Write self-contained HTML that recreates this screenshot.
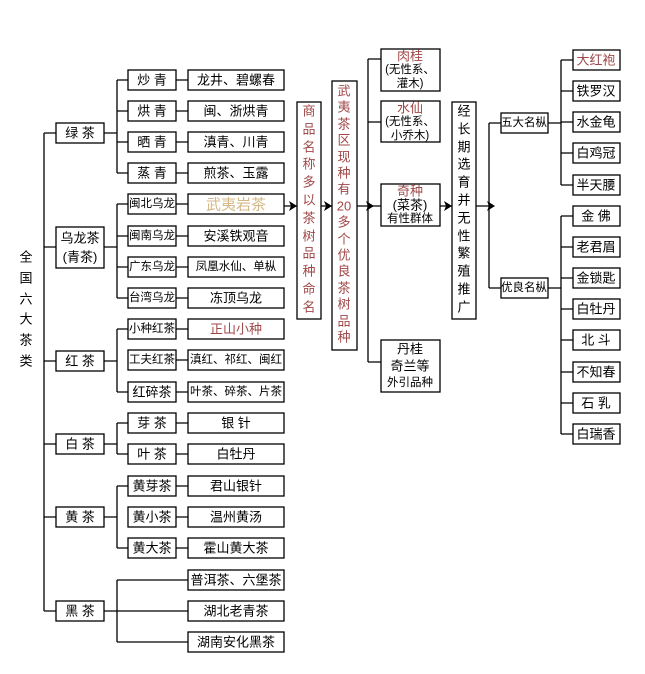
<!DOCTYPE html>
<html><head><meta charset="utf-8"><style>
html,body{margin:0;padding:0;background:#fff;}
svg text{font-family:"Liberation Sans","Noto Sans CJK SC","WenQuanYi Zen Hei",sans-serif;font-size:13px;fill:#000;text-anchor:middle;dominant-baseline:central;}
svg text.s{font-size:11.5px;}
.r{fill:#a04848 !important;}
</style></head><body>
<svg width="645" height="669" viewBox="0 0 645 669" xmlns="http://www.w3.org/2000/svg">
<g fill="#fff" stroke="#000" stroke-width="1.3">
<rect x="56" y="123" width="48" height="20"/>
<rect x="56" y="227" width="48" height="41"/>
<rect x="56" y="351" width="48" height="20"/>
<rect x="56" y="434" width="48" height="20"/>
<rect x="56" y="507" width="48" height="20"/>
<rect x="56" y="601" width="48" height="20"/>
<rect x="128" y="70" width="48" height="20"/>
<rect x="128" y="101" width="48" height="20"/>
<rect x="128" y="132" width="48" height="20"/>
<rect x="128" y="163" width="48" height="20"/>
<rect x="128" y="194" width="48" height="20"/>
<rect x="128" y="226" width="48" height="20"/>
<rect x="128" y="257" width="48" height="20"/>
<rect x="128" y="288" width="48" height="20"/>
<rect x="128" y="319" width="48" height="20"/>
<rect x="128" y="350" width="48" height="20"/>
<rect x="128" y="382" width="48" height="20"/>
<rect x="128" y="413" width="48" height="20"/>
<rect x="128" y="444" width="48" height="20"/>
<rect x="128" y="476" width="48" height="20"/>
<rect x="128" y="507" width="48" height="20"/>
<rect x="128" y="538" width="48" height="20"/>
<rect x="188" y="70" width="96" height="20"/>
<rect x="188" y="101" width="96" height="20"/>
<rect x="188" y="132" width="96" height="20"/>
<rect x="188" y="163" width="96" height="20"/>
<rect x="188" y="194" width="96" height="20"/>
<rect x="188" y="226" width="96" height="20"/>
<rect x="188" y="257" width="96" height="20"/>
<rect x="188" y="288" width="96" height="20"/>
<rect x="188" y="319" width="96" height="20"/>
<rect x="188" y="350" width="96" height="20"/>
<rect x="188" y="382" width="96" height="20"/>
<rect x="188" y="413" width="96" height="20"/>
<rect x="188" y="444" width="96" height="20"/>
<rect x="188" y="476" width="96" height="20"/>
<rect x="188" y="507" width="96" height="20"/>
<rect x="188" y="538" width="96" height="20"/>
<rect x="188" y="570" width="96" height="20"/>
<rect x="188" y="601" width="96" height="20"/>
<rect x="188" y="632" width="96" height="20"/>
<rect x="297" y="102" width="24" height="217"/>
<rect x="332" y="81" width="25" height="269"/>
<rect x="452" y="102" width="24" height="217"/>
<rect x="381" y="49" width="59" height="42"/>
<rect x="381" y="101" width="59" height="41"/>
<rect x="381" y="184" width="59" height="42"/>
<rect x="381" y="340" width="59" height="52"/>
<rect x="501" y="113" width="47" height="20"/>
<rect x="501" y="278" width="47" height="20"/>
<rect x="573" y="50" width="47" height="20"/>
<rect x="573" y="81" width="47" height="20"/>
<rect x="573" y="112" width="47" height="20"/>
<rect x="573" y="143" width="47" height="20"/>
<rect x="573" y="175" width="47" height="20"/>
<rect x="573" y="206" width="47" height="20"/>
<rect x="573" y="237" width="47" height="20"/>
<rect x="573" y="268" width="47" height="20"/>
<rect x="573" y="299" width="47" height="20"/>
<rect x="573" y="330" width="47" height="20"/>
<rect x="573" y="362" width="47" height="20"/>
<rect x="573" y="393" width="47" height="20"/>
<rect x="573" y="424" width="47" height="20"/>
</g>
<g stroke="#000" stroke-width="1.3" fill="none">
<path d="M44 133V611M44 133H56M44 247H56M44 361H56M44 444H56M44 517H56M44 611H56"/>
<path d="M104 133H117M117 80V173M117 80H128M117 111H128M117 142H128M117 173H128"/>
<path d="M104 247H117M117 204V298M117 204H128M117 236H128M117 267H128M117 298H128"/>
<path d="M104 361H117M117 329V392M117 329H128M117 392H128"/>
<path d="M104 444H117M117 423V454M117 423H128M117 454H128"/>
<path d="M104 517H117M117 486V548M117 486H128M117 548H128"/>
<path d="M104 611H188M117 580V642M117 580H188M117 642H188"/>
<path d="M176 80H188M176 111H188M176 142H188M176 173H188M176 204H188M176 236H188M176 267H188M176 298H188M176 329H188M176 360H188M176 392H188M176 423H188M176 454H188M176 486H188M176 517H188M176 548H188"/>
<path d="M284 206H297M321 206H332M357 206H368M368 59V362M368 59H381M368 122H381M368 206H381M368 362H381M440 206H452M476 206H489M489 123V288M489 123H501M489 288H501"/>
<path d="M548 123H561M561 60V185M561 60H573M561 91H573M561 122H573M561 153H573M561 185H573"/>
<path d="M548 288H561M561 216V434M561 216H573M561 247H573M561 278H573M561 309H573M561 340H573M561 372H573M561 403H573M561 434H573"/>
</g>
<g fill="#000">
<polygon points="297,206 289,201 291,206 289,211"/>
<polygon points="332,206 324,201 326,206 324,211"/>
<polygon points="374,206 366,201 368,206 366,211"/>
<polygon points="452,206 444,201 446,206 444,211"/>
<polygon points="495,206 487,201 489,206 487,211"/>
</g>
<text x="26" y="257">全</text><text x="26" y="278">国</text><text x="26" y="299">六</text><text x="26" y="319">大</text><text x="26" y="340">茶</text><text x="26" y="361">类</text>
<text x="80" y="133">绿 茶</text>
<text x="80" y="238">乌龙茶</text><text x="80" y="257">(青茶)</text>
<text x="80" y="361">红 茶</text>
<text x="80" y="444">白 茶</text>
<text x="80" y="517">黄 茶</text>
<text x="80" y="611">黑 茶</text>
<text x="152" y="80">炒 青</text><text x="152" y="111">烘 青</text><text x="152" y="142">晒 青</text><text x="152" y="173">蒸 青</text>
<text x="152" y="204" class="s">闽北乌龙</text><text x="152" y="236" class="s">闽南乌龙</text><text x="152" y="267" class="s">广东乌龙</text><text x="152" y="298" class="s">台湾乌龙</text>
<text x="152" y="329" class="s">小种红茶</text><text x="152" y="360" class="s">工夫红茶</text><text x="152" y="392">红碎茶</text>
<text x="152" y="423">芽 茶</text><text x="152" y="454">叶 茶</text>
<text x="152" y="486">黄芽茶</text><text x="152" y="517">黄小茶</text><text x="152" y="548">黄大茶</text>
<text x="236" y="80">龙井、碧螺春</text><text x="236" y="111">闽、浙烘青</text><text x="236" y="142">滇青、川青</text><text x="236" y="173">煎茶、玉露</text>
<text x="236" y="205" style="fill:#d4b887;font-size:15px">武夷岩茶</text>
<text x="236" y="236">安溪铁观音</text><text x="236" y="267" class="s">凤凰水仙、单枞</text><text x="236" y="298">冻顶乌龙</text>
<text x="236" y="329" class="r">正山小种</text><text x="236" y="360" class="s">滇红、祁红、闽红</text><text x="236" y="392" class="s">叶茶、碎茶、片茶</text>
<text x="236" y="423">银 针</text><text x="236" y="454">白牡丹</text>
<text x="236" y="486">君山银针</text><text x="236" y="517">温州黄汤</text><text x="236" y="548">霍山黄大茶</text>
<text x="236" y="580">普洱茶、六堡茶</text><text x="236" y="611">湖北老青茶</text><text x="236" y="642">湖南安化黑茶</text>
<text x="309" y="111" class="r">商</text><text x="309" y="129" class="r">品</text><text x="309" y="147" class="r">名</text><text x="309" y="164" class="r">称</text><text x="309" y="182" class="r">多</text><text x="309" y="200" class="r">以</text><text x="309" y="218" class="r">茶</text><text x="309" y="236" class="r">树</text><text x="309" y="253" class="r">品</text><text x="309" y="271" class="r">种</text><text x="309" y="289" class="r">命</text><text x="309" y="307" class="r">名</text>
<text x="344" y="91" class="r">武</text><text x="344" y="107" class="r">夷</text><text x="344" y="124" class="r">茶</text><text x="344" y="140" class="r">区</text><text x="344" y="157" class="r">现</text><text x="344" y="173" class="r">种</text><text x="344" y="189" class="r">有</text><text x="344" y="206" class="r">20</text><text x="344" y="222" class="r">多</text><text x="344" y="239" class="r">个</text><text x="344" y="255" class="r">优</text><text x="344" y="271" class="r">良</text><text x="344" y="288" class="r">茶</text><text x="344" y="304" class="r">树</text><text x="344" y="321" class="r">品</text><text x="344" y="337" class="r">种</text>
<text x="464" y="111">经</text><text x="464" y="129">长</text><text x="464" y="147">期</text><text x="464" y="164">选</text><text x="464" y="182">育</text><text x="464" y="200">并</text><text x="464" y="218">无</text><text x="464" y="236">性</text><text x="464" y="253">繁</text><text x="464" y="271">殖</text><text x="464" y="289">推</text><text x="464" y="307">广</text>
<text x="410" y="56" class="r">肉桂</text><text x="410" y="70" class="s">(无性系、</text><text x="410" y="84" class="s">灌木)</text>
<text x="410" y="108" class="r">水仙</text><text x="410" y="122" class="s">(无性系、</text><text x="410" y="136" class="s">小乔木)</text>
<text x="410" y="191" class="r">奇种</text><text x="410" y="205">(菜茶)</text><text x="410" y="219" class="s">有性群体</text>
<text x="410" y="349">丹桂</text><text x="410" y="366">奇兰等</text><text x="410" y="383" class="s">外引品种</text>
<text x="524" y="123" class="s">五大名枞</text><text x="524" y="288" class="s">优良名枞</text>
<text x="596" y="60" class="r">大红袍</text><text x="596" y="91">铁罗汉</text><text x="596" y="122">水金龟</text><text x="596" y="153">白鸡冠</text><text x="596" y="185">半天腰</text>
<text x="596" y="216">金 佛</text><text x="596" y="247">老君眉</text><text x="596" y="278">金锁匙</text><text x="596" y="309">白牡丹</text><text x="596" y="340">北 斗</text><text x="596" y="372">不知春</text><text x="596" y="403">石 乳</text><text x="596" y="434">白瑞香</text>
</svg>
</body></html>
